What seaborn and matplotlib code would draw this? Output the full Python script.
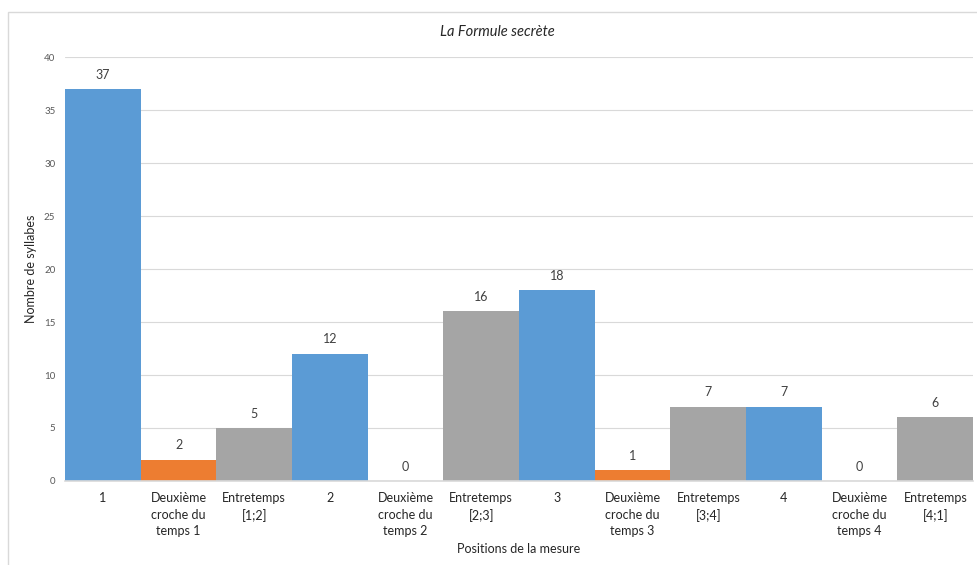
import pandas as pd
import matplotlib
matplotlib.use("Agg")
import matplotlib.pyplot as plt
import seaborn as sns
from matplotlib.patches import Rectangle

# Donnees du graphique
positions = ["1", "Deuxième\ncroche du\ntemps 1", "Entretemps\n[1;2]",
             "2", "Deuxième\ncroche du\ntemps 2", "Entretemps\n[2;3]",
             "3", "Deuxième\ncroche du\ntemps 3", "Entretemps\n[3;4]",
             "4", "Deuxième\ncroche du\ntemps 4", "Entretemps\n[4;1]"]
syllabes = [37, 2, 5, 12, 0, 16, 18, 1, 7, 7, 0, 6]
types = ["temps", "croche", "entre"] * 4
couleurs = {"temps": "#5B9BD5", "croche": "#ED7D31", "entre": "#A5A5A5"}

df = pd.DataFrame({"Position": positions, "Syllabes": syllabes, "Type": types})

sns.set_style("white")
plt.rcParams["font.family"] = ["Lato", "DejaVu Sans"]

fig = plt.figure(figsize=(9.78, 5.65), dpi=100)
ax = fig.add_axes([0.0665, 0.1487, 0.9285, 0.7503])

# Cadre du graphique
fig.patches.append(Rectangle((8 / 978, -0.1), 1.2, 1.1 - 12 / 565,
                             transform=fig.transFigure, fill=False,
                             edgecolor="#D9D9D9", linewidth=1.0))

sns.barplot(x="Position", y="Syllabes", hue="Type", data=df, order=positions,
            palette=couleurs, dodge=False, width=1.0, legend=False, ax=ax,
            saturation=1, linewidth=0)

for c in ax.containers:
    ax.bar_label(c, padding=6, fontsize=9, color="#404040")

ax.set_ylim(0, 40)
ax.set_xlim(-0.5, 11.5)
ax.set_yticks(range(0, 41, 5))
ax.yaxis.grid(True, color="#D9D9D9", linewidth=0.8)
ax.set_axisbelow(True)
for s in ["top", "right", "left"]:
    ax.spines[s].set_visible(False)
ax.spines["bottom"].set_color("#D9D9D9")
ax.spines["bottom"].set_linewidth(1.2)
ax.tick_params(axis="y", labelsize=7, colors="#595959", length=0, pad=7)
ax.tick_params(axis="x", labelsize=9, colors="#262626", length=0, pad=8)
for t in ax.get_xticklabels():
    t.set_linespacing(1.45)

ax.set_xlabel("Positions de la mesure", fontsize=9, color="#262626", labelpad=4)
ax.set_ylabel("Nombre de syllabes", fontsize=9, color="#262626")
ax.yaxis.set_label_coords(-0.031, 0.5)
fig.text(497 / 978, 1 - 32 / 565, "La Formule secrète", fontsize=10.5,
         style="italic", color="#262626", ha="center", va="center")

fig.savefig("out.png", dpi=100)
